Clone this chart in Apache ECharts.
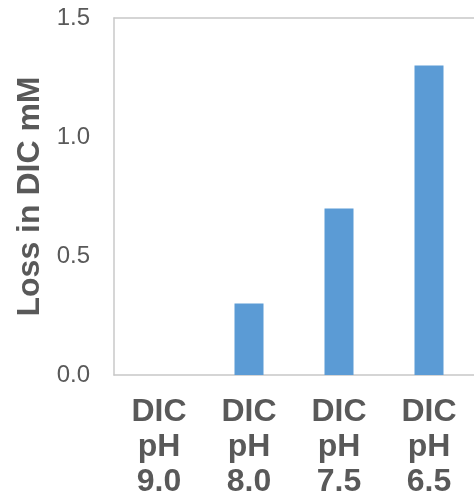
<!DOCTYPE html>
<html><head><meta charset="utf-8">
<script src="https://cdn.jsdelivr.net/npm/echarts@6/dist/echarts.min.js"></script>
<style>html,body{margin:0;padding:0;background:#fff}#c{width:474px;height:500px}</style>
</head><body><div id="c"></div>
<script>
const categories = ['DIC\npH\n9.0', 'DIC\npH\n8.0', 'DIC\npH\n7.5', 'DIC\npH\n6.5'];
const values = [0, 0.3, 0.7, 1.3];
const yTicks = [0, 0.5, 1.0, 1.5];
const border = { show: true, lineStyle: { color: '#c8c8c8', width: 1.5 } };
const chart = echarts.init(document.getElementById('c'));
chart.setOption({
  animation: false,
  grid: { left: 114, right: -3, top: 18, bottom: 125, show: false, containLabel: false },
  xAxis: [{
    type: 'category', data: categories,
    axisLine: border, axisTick: { show: false },
    axisLabel: { color: '#595959', fontFamily: 'Liberation Sans, Arial', fontWeight: 'bold', fontSize: 32, lineHeight: 35, margin: 20 }
  }, {
    type: 'category', data: categories, position: 'top',
    axisLine: border, axisTick: { show: false }, axisLabel: { show: false }
  }],
  yAxis: {
    type: 'value', min: 0, max: 1.5, interval: 0.5,
    name: 'Loss in DIC mM', nameLocation: 'middle', nameGap: 68,
    nameTextStyle: { color: '#595959', fontFamily: 'Liberation Sans, Arial', fontWeight: 'bold', fontSize: 32 },
    splitLine: { show: false }, axisLine: border, axisTick: { show: false },
    axisLabel: { color: '#595959', fontFamily: 'Liberation Sans, Arial', fontSize: 24, margin: 24,
      formatter: v => yTicks.includes(v) ? v.toFixed(1) : '' }
  },
  series: [{ type: 'bar', data: values, barWidth: 29, itemStyle: { color: '#5b9bd5' } }]
});
</script></body></html>
